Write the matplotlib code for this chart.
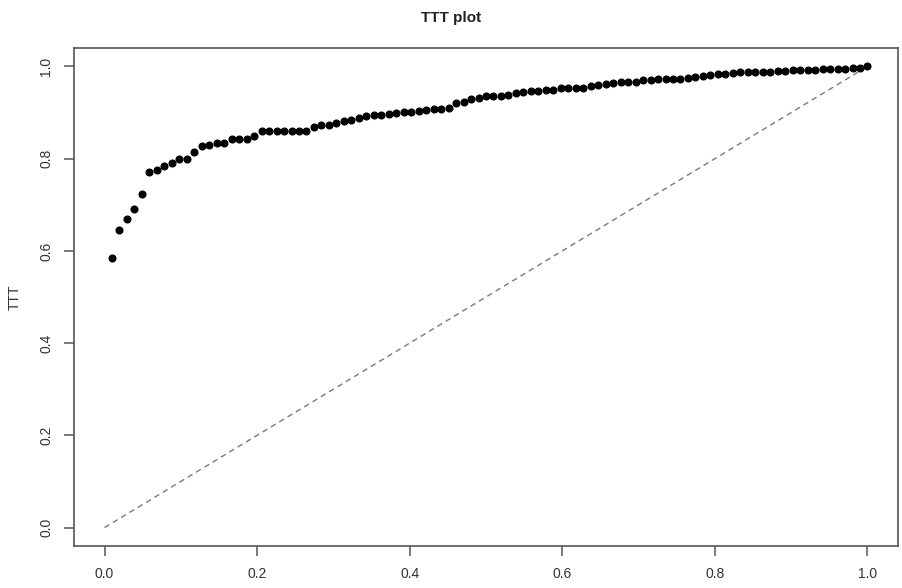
import matplotlib
matplotlib.use("Agg")
import matplotlib.pyplot as plt
import numpy as np

# scaled total time on test values, one per ordered observation
ttt = [0.584, 0.646, 0.670, 0.690, 0.724, 0.771, 0.776, 0.784, 0.790, 0.799,
       0.799, 0.814, 0.827, 0.829, 0.834, 0.834, 0.843, 0.843, 0.843, 0.849,
       0.859, 0.860, 0.860, 0.860, 0.860, 0.861, 0.861, 0.868, 0.872, 0.874,
       0.878, 0.881, 0.883, 0.889, 0.892, 0.895, 0.895, 0.897, 0.898, 0.901,
       0.901, 0.903, 0.905, 0.907, 0.907, 0.910, 0.920, 0.923, 0.929, 0.931,
       0.936, 0.936, 0.936, 0.939, 0.942, 0.944, 0.946, 0.946, 0.948, 0.950,
       0.953, 0.954, 0.954, 0.954, 0.957, 0.959, 0.961, 0.965, 0.967, 0.967,
       0.967, 0.970, 0.970, 0.972, 0.973, 0.973, 0.973, 0.976, 0.978, 0.979,
       0.981, 0.983, 0.983, 0.985, 0.987, 0.988, 0.988, 0.988, 0.989, 0.991,
       0.991, 0.993, 0.993, 0.993, 0.993, 0.995, 0.995, 0.995, 0.995, 0.996,
       0.997, 1.000]
n = len(ttt)
i_over_n = [i / n for i in range(1, n + 1)]

ticks = [0.0, 0.2, 0.4, 0.6, 0.8, 1.0]
tick_labels = ["0.0", "0.2", "0.4", "0.6", "0.8", "1.0"]

plt.rcParams["font.family"] = ["Liberation Sans", "DejaVu Sans"]

fig = plt.figure(figsize=(9.02, 5.88), dpi=100)
ax = fig.add_axes([74 / 902, 1 - 546 / 588, (898 - 74) / 902, (546 - 48) / 588])

ax.plot([0, 1], [0, 1], linestyle=(0, (4, 3)), color="#7a7a7a", linewidth=1.0)
ax.plot(i_over_n, ttt, "o", color="black", markersize=4.8)

ax.set_xlim(-0.04, 1.04)
ax.set_ylim(-0.04, 1.04)

ax.set_xticks(ticks)
ax.set_xticklabels(tick_labels)
ax.set_yticks(ticks)
ax.set_yticklabels(tick_labels, rotation=90, va="center")

for s in ax.spines.values():
    s.set_color("#555555")
    s.set_linewidth(1.2)

ax.tick_params(direction="out", length=7, width=1.1, color="#555555",
               labelsize=10, labelcolor="#333333", pad=8)

# y label placed by hand so it sits well inside the left margin
ax.set_ylabel("TTT", fontsize=10, color="#333333")
ax.yaxis.set_label_coords(-52 / 824, 0.5)
fig.text(0.5, 1 - 18 / 588, "TTT plot", ha="center", va="center",
         fontsize=11, fontweight="bold", color="#222222")

fig.savefig("out.png", dpi=100)
